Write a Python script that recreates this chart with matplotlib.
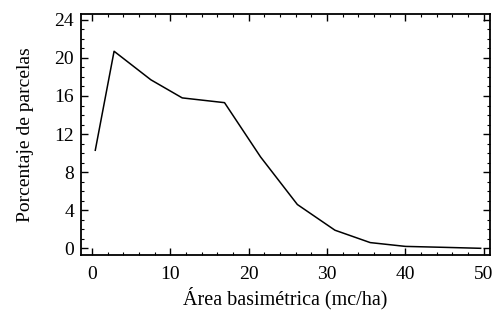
import matplotlib
matplotlib.use("Agg")
import matplotlib.pyplot as plt
from matplotlib.ticker import MultipleLocator

# area basimetrica (mc/ha) vs porcentaje de parcelas
area = [0.4, 2.8, 7.5, 11.5, 16.9, 21.5, 26.2, 31.0, 35.5, 40.0, 45.0, 49.6]
porcentaje = [10.3, 20.7, 17.7, 15.8, 15.3, 9.6, 4.6, 1.9, 0.6, 0.2, 0.1, 0.0]

xticks = [0, 10, 20, 30, 40, 50]
yticks = [0, 4, 8, 12, 16, 20, 24]

plt.rcParams['font.family'] = ['Liberation Serif', 'DejaVu Serif']

fig = plt.figure(figsize=(4.95, 3.14), dpi=100)
ax = fig.add_axes([0.164, 0.188, 0.826, 0.767])

ax.plot(area, porcentaje, color='black', linewidth=1.1)

ax.set_xlim(-1.4, 50.8)
ax.set_ylim(-0.7, 24.6)
ax.set_xticks(xticks)
ax.set_yticks(yticks)
ax.xaxis.set_minor_locator(MultipleLocator(2))
ax.yaxis.set_minor_locator(MultipleLocator(1))
ax.tick_params(which='both', direction='in', top=True, right=True, labelsize=14)
ax.tick_params(which='major', length=5, width=1)
ax.tick_params(which='minor', length=2.5, width=0.8)
ax.tick_params(axis='x', which='major', pad=8)
ax.tick_params(axis='y', which='major', pad=5)
for s in ax.spines.values():
    s.set_linewidth(1.3)

ax.set_xlabel('Área basimétrica (mc/ha)', fontsize=14.5, labelpad=3)
ax.set_ylabel('Porcentaje de parcelas', fontsize=14, labelpad=15)

fig.savefig('out.png', dpi=100)
